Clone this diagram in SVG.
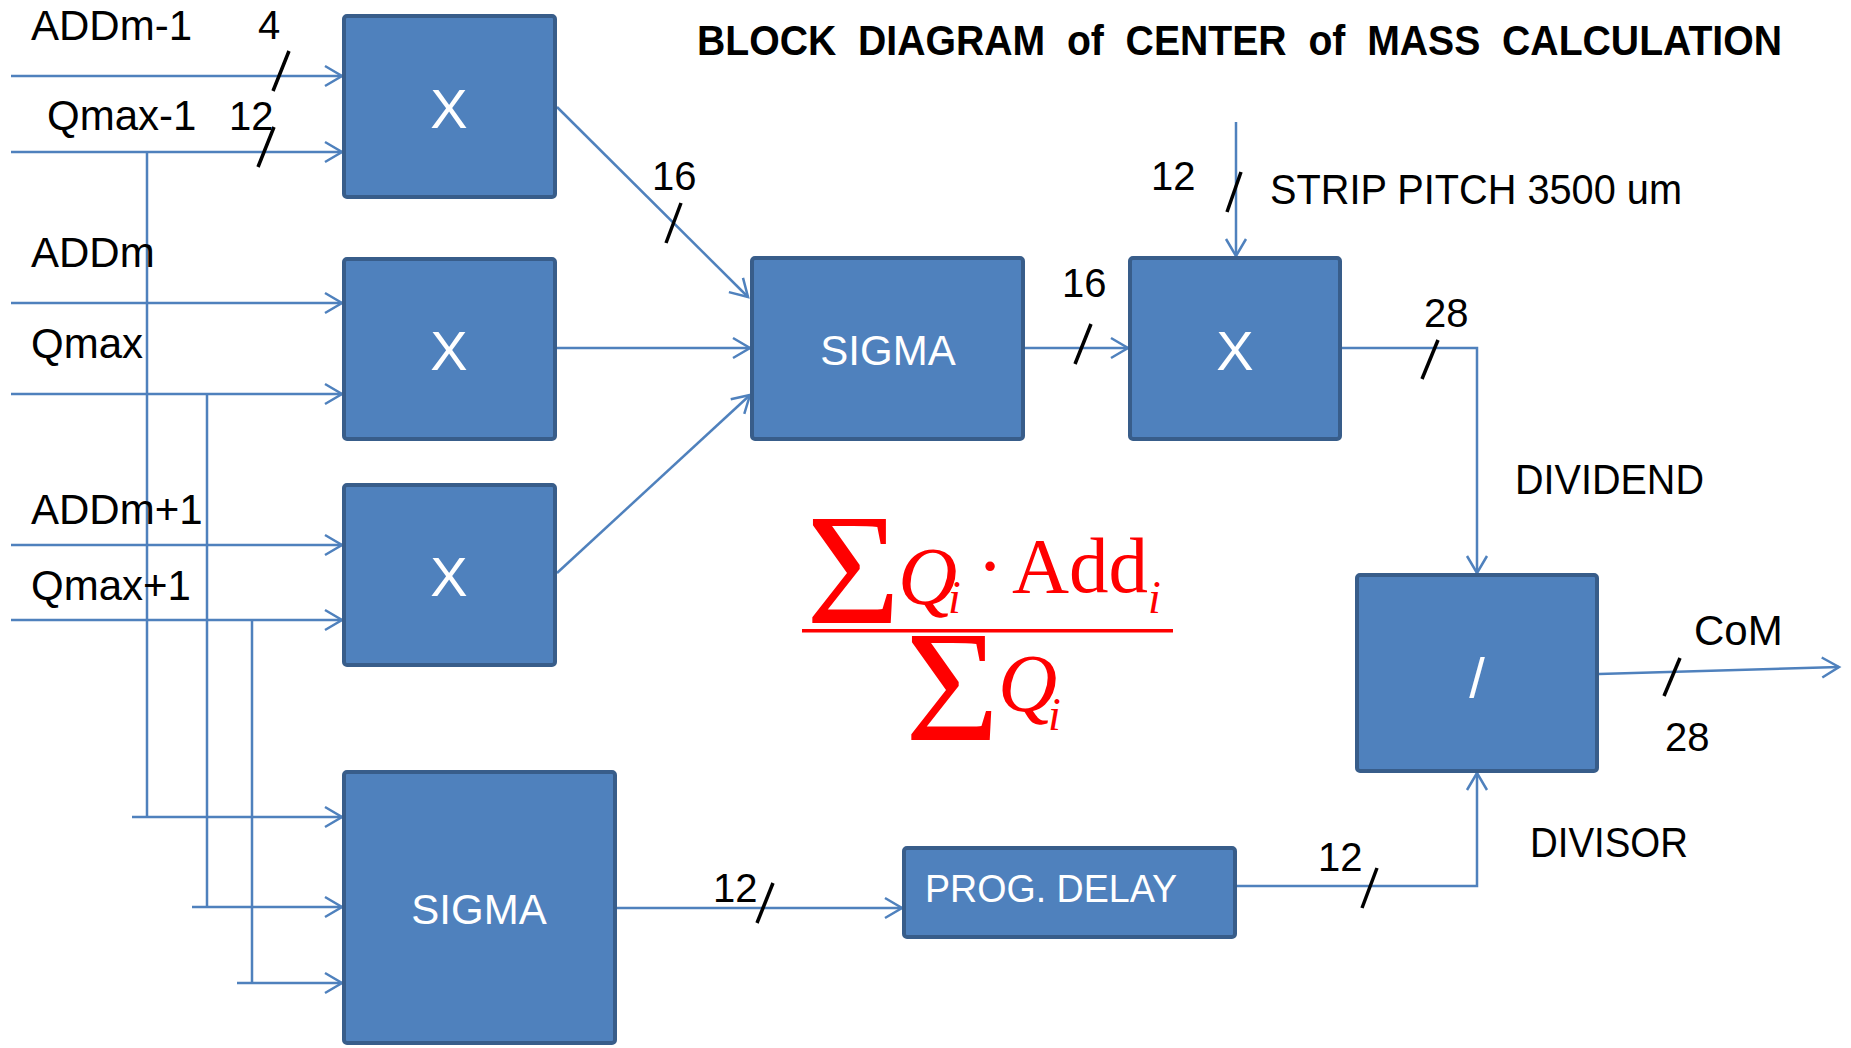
<svg xmlns="http://www.w3.org/2000/svg" width="1851" height="1048" viewBox="0 0 1851 1048">
  <defs>
    <style>
      .blk { fill: #4F81BD; stroke: #385D8A; stroke-width: 4; }
      .wire { fill: none; stroke: #4F81BD; stroke-width: 2.5; }
      .arr { marker-end: url(#head); }
      .bus { stroke: #000; stroke-width: 3.5; }
      .lbl { font-family: "Liberation Sans", Arial, sans-serif; font-size: 42px; fill: #000; }
      .num { font-family: "Liberation Sans", Arial, sans-serif; font-size: 40px; fill: #000; }
      .in { font-family: "Liberation Sans", Arial, sans-serif; fill: #fff; text-anchor: middle; }
      .math { font-family: "Liberation Serif", "Times New Roman", serif; fill: #FF0000; }
    </style>
    <marker id="head" viewBox="-20 -12 22 24" refX="0" refY="0" markerWidth="22" markerHeight="24" markerUnits="userSpaceOnUse" orient="auto" overflow="visible">
      <path d="M-17,-10 L0,0 L-17,10" fill="none" stroke="#4F81BD" stroke-width="2.5"/>
    </marker>
  </defs>

  <rect width="1851" height="1048" fill="#fff"/>

  <!-- title -->
  <text x="697" y="55" class="lbl" font-weight="bold" xml:space="preserve" style="white-space:pre" textLength="1085" lengthAdjust="spacingAndGlyphs">BLOCK  DIAGRAM  of  CENTER  of  MASS  CALCULATION</text>

  <!-- connectors -->
  <g id="connectors">
    <path class="wire arr" d="M11,76 H342"/>
    <path class="wire arr" d="M11,152 H342"/>
    <path class="wire arr" d="M11,303 H342"/>
    <path class="wire arr" d="M11,394 H342"/>
    <path class="wire arr" d="M11,545 H342"/>
    <path class="wire arr" d="M11,620 H342"/>
    <path class="wire" d="M147,152 V817"/>
    <path class="wire arr" d="M132,817 H342"/>
    <path class="wire" d="M207,394 V907"/>
    <path class="wire arr" d="M192,907 H342"/>
    <path class="wire" d="M252,620 V983"/>
    <path class="wire arr" d="M237,983 H342"/>
    <path class="wire arr" d="M557,107 L748,297"/>
    <path class="wire arr" d="M557,348 H750"/>
    <path class="wire arr" d="M557,573 L750,395"/>
    <path class="wire arr" d="M1025,348 H1128"/>
    <path class="wire arr" d="M1236,122 V256"/>
    <path class="wire arr" d="M1342,348 H1477 V573"/>
    <path class="wire arr" d="M617,908 H902"/>
    <path class="wire arr" d="M1237,886 H1477 V773"/>
    <path class="wire arr" d="M1599,674 L1839,667"/>

    <!-- bus width ticks -->
    <line class="bus" x1="273" y1="91" x2="289" y2="51"/>
    <line class="bus" x1="258" y1="167" x2="274" y2="127"/>
    <line class="bus" x1="666" y1="243" x2="681" y2="203"/>
    <line class="bus" x1="1075" y1="364" x2="1091" y2="324"/>
    <line class="bus" x1="1227" y1="212" x2="1241" y2="172"/>
    <line class="bus" x1="1422" y1="379" x2="1438" y2="340"/>
    <line class="bus" x1="1664" y1="696" x2="1680" y2="658"/>
    <line class="bus" x1="757" y1="923" x2="773" y2="883"/>
    <line class="bus" x1="1362" y1="908" x2="1377" y2="868"/>
  </g>

  <!-- signal and width labels -->
  <g id="labels">
    <text class="lbl" x="31" y="40">ADDm-1</text>
    <text class="num" x="258" y="39">4</text>
    <text class="lbl" x="47" y="130">Qmax-1</text>
    <text class="num" x="229" y="130">12</text>
    <text class="lbl" x="31" y="267">ADDm</text>
    <text class="lbl" x="31" y="358">Qmax</text>
    <text class="lbl" x="31" y="524">ADDm+1</text>
    <text class="lbl" x="31" y="600">Qmax+1</text>
    <text class="num" x="652" y="190">16</text>
    <text class="num" x="1062" y="297">16</text>
    <text class="num" x="1151" y="190">12</text>
    <text class="lbl" x="1270" y="204" textLength="412" lengthAdjust="spacingAndGlyphs">STRIP PITCH 3500 um</text>
    <text class="num" x="1424" y="327">28</text>
    <text class="lbl" x="1515" y="494" textLength="189" lengthAdjust="spacingAndGlyphs">DIVIDEND</text>
    <text class="lbl" x="1694" y="645">CoM</text>
    <text class="num" x="1665" y="751">28</text>
    <text class="num" x="713" y="902">12</text>
    <text class="num" x="1318" y="871">12</text>
    <text class="lbl" x="1530" y="857" textLength="158" lengthAdjust="spacingAndGlyphs">DIVISOR</text>
  </g>

  <!-- blocks -->
  <g id="mul-prev">
    <rect class="blk" x="344" y="16" width="211" height="181" rx="3"/>
    <text class="in" x="449" y="128" font-size="56">X</text>
  </g>
  <g id="mul-center">
    <rect class="blk" x="344" y="259" width="211" height="180" rx="3"/>
    <text class="in" x="449" y="370" font-size="56">X</text>
  </g>
  <g id="mul-next">
    <rect class="blk" x="344" y="485" width="211" height="180" rx="3"/>
    <text class="in" x="449" y="596" font-size="56">X</text>
  </g>
  <g id="sigma-num">
    <rect class="blk" x="752" y="258" width="271" height="181" rx="3"/>
    <text class="in" x="888" y="365" font-size="42">SIGMA</text>
  </g>
  <g id="mul-pitch">
    <rect class="blk" x="1130" y="258" width="210" height="181" rx="3"/>
    <text class="in" x="1235" y="370" font-size="56">X</text>
  </g>
  <g id="divider">
    <rect class="blk" x="1357" y="575" width="240" height="196" rx="3"/>
    <text class="in" x="1477" y="697" font-size="56">/</text>
  </g>
  <g id="sigma-den">
    <rect class="blk" x="344" y="772" width="271" height="271" rx="3"/>
    <text class="in" x="479" y="924" font-size="42">SIGMA</text>
  </g>
  <g id="prog-delay">
    <rect class="blk" x="904" y="848" width="331" height="89" rx="3"/>
    <text x="925" y="902" font-family="'Liberation Sans', Arial, sans-serif" font-size="39" fill="#fff" textLength="252" lengthAdjust="spacingAndGlyphs">PROG. DELAY</text>
  </g>

  <!-- centre of mass formula -->
  <g id="formula">
    <text class="math" font-size="159" transform="translate(806,623) scale(1.02,1)">Σ</text>
    <text class="math" font-size="82" font-style="italic" x="898" y="604">Q</text>
    <text class="math" font-size="46" font-style="italic" x="948" y="613">i</text>
    <text class="math" font-size="80" x="990" y="593" text-anchor="middle">·</text>
    <text class="math" font-size="79" x="1012" y="592">Add</text>
    <text class="math" font-size="46" font-style="italic" x="1148" y="613">i</text>
    <rect x="802" y="629" width="371" height="3.5" fill="#FF0000"/>
    <text class="math" font-size="159" transform="translate(905,740) scale(1.02,1)">Σ</text>
    <text class="math" font-size="82" font-style="italic" x="998" y="711">Q</text>
    <text class="math" font-size="46" font-style="italic" x="1048" y="730">i</text>
  </g>
</svg>
